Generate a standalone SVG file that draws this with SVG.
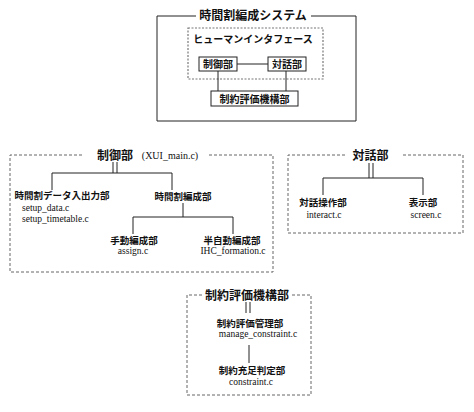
<svg xmlns="http://www.w3.org/2000/svg" width="474" height="412" viewBox="0 0 474 412">
<style>
.jp{font-family:"Noto Sans CJK JP","Noto Sans",sans-serif;font-weight:bold;fill:#111;text-anchor:middle}
.t12{font-size:12px}
.t10{font-size:10px}
.t95{font-size:9.5px}
.fn{font-family:"Liberation Serif",serif;font-size:9.5px;fill:#111;text-anchor:middle}
.box{fill:#fff;stroke:#222;stroke-width:1}
.ln{fill:none;stroke:#222;stroke-width:1}
.dash{fill:none;stroke:#666;stroke-width:1;stroke-dasharray:3,2}
.dash2{fill:none;stroke:#777;stroke-width:1.2;stroke-dasharray:2,1.5}
</style>
<rect width="474" height="412" fill="#fff"/>

<g id="system">
  <path class="ln" d="M196,16 H157 V121 H356 V16 H311"/>
  <text class="jp t12" x="253" y="20">時間割編成システム</text>
</g>
<g id="human-interface">
  <rect class="dash2" x="188" y="28" width="135" height="51"/>
  <text class="jp t10" x="253" y="43">ヒューマンインタフェース</text>
</g>
<g id="node-control">
  <rect class="box" x="199" y="57" width="38" height="14"/>
  <text class="jp t10" x="218" y="68">制御部</text>
</g>
<g id="node-dialog">
  <rect class="box" x="268" y="57" width="38" height="14"/>
  <text class="jp t10" x="287" y="68">対話部</text>
</g>
<g id="node-constraint">
  <rect class="box" x="211" y="91" width="87" height="15"/>
  <text class="jp t10" x="254.5" y="102.5">制約評価機構部</text>
</g>

<g id="section-control">
  <path class="dash" d="M82,155 H10 V272 H273 V155 H208"/>
  <text class="jp t12" x="115" y="159.5">制御部</text>
  <text class="fn" x="170" y="159" style="font-size:10px">(XUI_main.c)</text>
</g>
<g id="node-io">
  <text class="jp t95" x="62" y="198.5">時間割データ入出力部</text>
  <text class="fn" x="22" y="211" style="text-anchor:start">setup_data.c</text>
  <text class="fn" x="22" y="222" style="text-anchor:start">setup_timetable.c</text>
</g>
<g id="node-formation">
  <text class="jp t95" x="183" y="200">時間割編成部</text>
</g>
<g id="node-manual">
  <text class="jp t95" x="134" y="243.5">手動編成部</text>
  <text class="fn" x="133" y="253.5">assign.c</text>
</g>
<g id="node-semiauto">
  <text class="jp t95" x="232" y="243.5">半自動編成部</text>
  <text class="fn" x="233" y="253.5">IHC_formation.c</text>
</g>

<g id="section-dialog">
  <path class="dash" d="M345,155 H288 V233 H463 V155 H401"/>
  <text class="jp t12" x="370.5" y="159.5">対話部</text>
</g>
<g id="node-interact">
  <text class="jp t95" x="323" y="205.5">対話操作部</text>
  <text class="fn" x="324" y="218">interact.c</text>
</g>
<g id="node-screen">
  <text class="jp t95" x="423" y="205.5">表示部</text>
  <text class="fn" x="426" y="218">screen.c</text>
</g>

<g id="section-constraint">
  <path class="dash" d="M202,295 H187 V395 H311 V295 H292"/>
  <text class="jp t12" x="247" y="299.5">制約評価機構部</text>
</g>
<g id="node-manage">
  <text class="jp t95" x="250" y="326.5">制約評価管理部</text>
  <text class="fn" x="258" y="336.5">manage_constraint.c</text>
</g>
<g id="node-satisfy">
  <text class="jp t95" x="252" y="373.5">制約充足判定部</text>
  <text class="fn" x="251" y="385">constraint.c</text>
</g>

<g id="connectors" class="ln">
  <path class="ln" d="M237,64 H268"/>
  <path class="ln" d="M218,71 V91"/>
  <path class="ln" d="M286,71 V91"/>
  <path class="ln" d="M113,162 V173 M117,162 V173"/>
  <path class="ln" d="M52,190 V173 H172 V190"/>
  <path class="ln" d="M183,203 V217"/>
  <path class="ln" d="M133,234 V217 H233 V234"/>
  <path class="ln" d="M369,163 V178 M373,163 V178"/>
  <path class="ln" d="M323,195 V178 H423 V195"/>
  <path class="ln" d="M246,302 V313 M250,302 V313"/>
  <path class="ln" d="M249,345 V363"/>
</g>
</svg>
